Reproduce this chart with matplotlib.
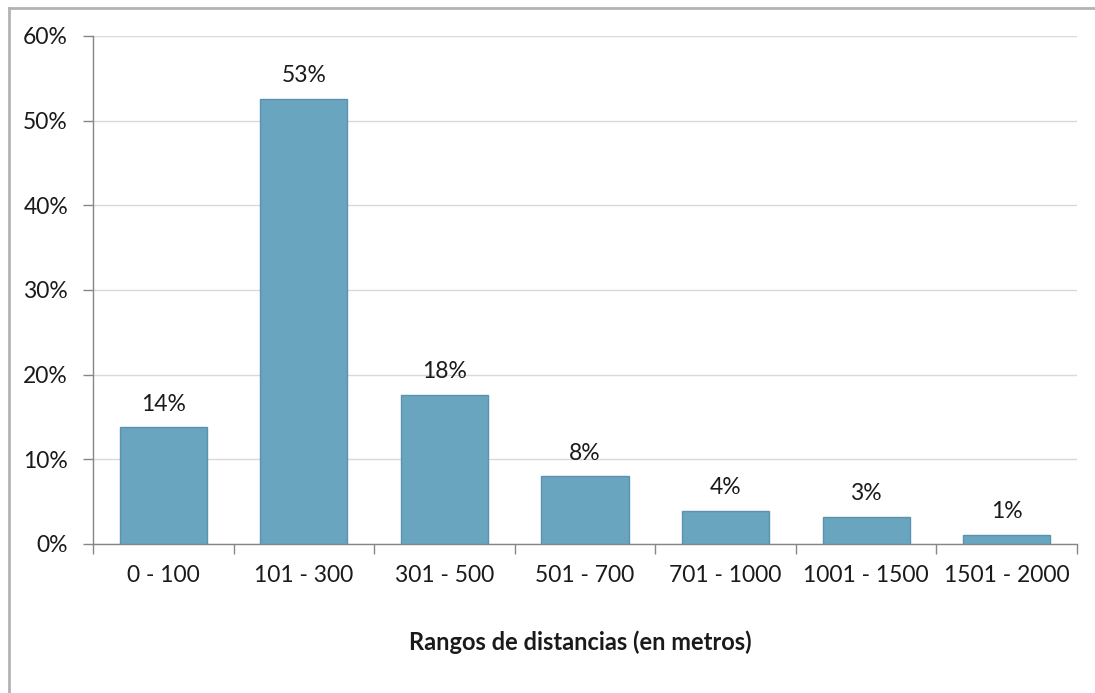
import matplotlib
matplotlib.use('Agg')
import matplotlib.pyplot as plt
from matplotlib.lines import Line2D
import numpy as np

plt.rcParams['font.family'] = ['Lato', 'DejaVu Sans']

# data
categories = ['0 - 100', '101 - 300', '301 - 500', '501 - 700',
              '701 - 1000', '1001 - 1500', '1501 - 2000']
shares = [13.8, 52.6, 17.6, 8.0, 3.9, 3.2, 1.1]
share_labels = ['14%', '53%', '18%', '8%', '4%', '3%', '1%']

fig = plt.figure(figsize=(10.95, 6.93), dpi=100)
ax = fig.add_axes([93 / 1095, 1 - 544 / 693, 984 / 1095, 508 / 693])

x = np.arange(len(categories))
ax.bar(x, shares, width=0.62, color='#6aa5c0', edgecolor='#5a93b0', linewidth=1, zorder=3)
for xi, v, lab in zip(x, shares, share_labels):
    ax.annotate(lab, (xi, v), xytext=(0, 9), textcoords='offset points',
                ha='center', va='bottom', fontsize=16.5, color='#1a1a1a')

ax.set_xlim(-0.5, len(categories) - 0.5)
ax.set_ylim(0, 60)
ax.set_yticks(np.arange(0, 61, 10))
ax.set_yticklabels(['%d%%' % t for t in range(0, 61, 10)])
ax.yaxis.grid(True, color='#d9d9d9', linewidth=1, zorder=0)

ax.set_xticks(x)
ax.set_xticklabels(categories)
ax.set_xticks(np.arange(-0.5, len(categories)), minor=True)
ax.tick_params(axis='x', which='major', length=0, pad=15, labelsize=16.5, colors='#1a1a1a')
ax.tick_params(axis='x', which='minor', length=7, color='#868686', width=1)
ax.tick_params(axis='y', length=7, color='#868686', width=1, labelsize=16.5, pad=11,
               labelcolor='#1a1a1a')

for s in ['top', 'right']:
    ax.spines[s].set_visible(False)
for s in ['left', 'bottom']:
    ax.spines[s].set_color('#868686')
    ax.spines[s].set_linewidth(1)

fig.text(580 / 1095, 1 - 642 / 693, 'Rangos de distancias (en metros)',
         ha='center', va='center', fontsize=17, fontweight='bold', color='#1a1a1a')

# chart frame (only left and top edges visible)
fig.add_artist(Line2D([8.5 / 1095, 8.5 / 1095], [0, 1 - 7.5 / 693],
                      transform=fig.transFigure, color='#b3b3b3', linewidth=2))
fig.add_artist(Line2D([8.5 / 1095, 1], [1 - 7.5 / 693, 1 - 7.5 / 693],
                      transform=fig.transFigure, color='#b3b3b3', linewidth=2))

fig.savefig('out.png', dpi=100)
